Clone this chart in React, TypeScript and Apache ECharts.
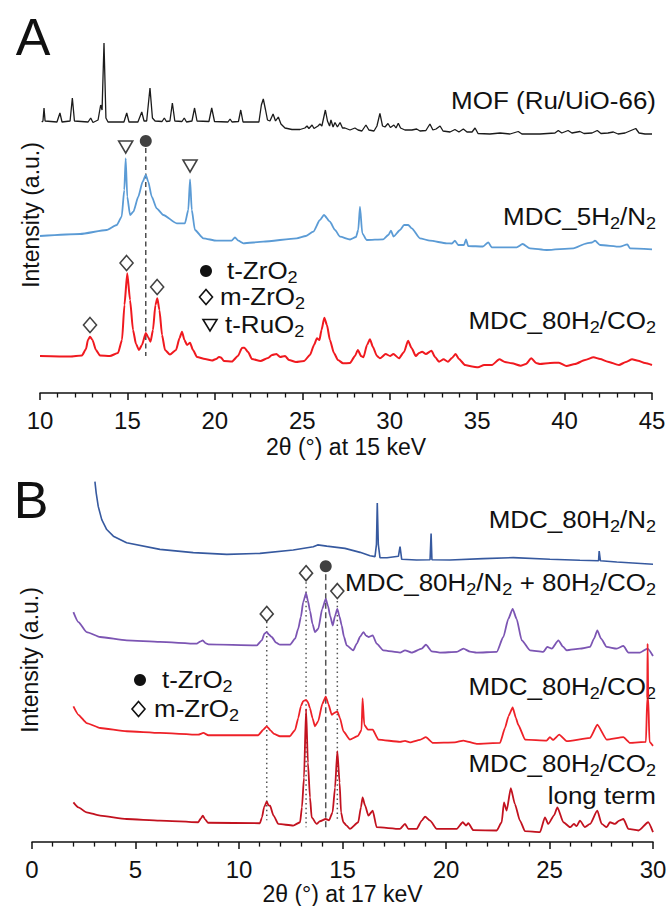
import { useEffect, useRef } from "react";
import * as echarts from "echarts";

// ---------- Panel A: 2θ at 15 keV (stacked intensities, a.u.) ----------
const mofRuUiO66: [number, number][] = [
  [10.1, 271], [10.17, 272], [10.23, 285], [10.29, 272], [10.97, 271], [11.14, 280], [11.26, 271],
  [11.72, 272], [11.85, 295], [11.97, 272], [12.75, 271], [12.9, 275], [13.03, 270.5], [13.32, 273],
  [13.47, 288], [13.55, 283], [13.66, 350], [13.77, 275], [13.89, 271], [14.8, 271], [14.96, 280],
  [15.09, 271], [15.6, 271], [15.82, 281], [15.95, 272], [16.1, 272], [16.29, 305], [16.43, 275],
  [16.58, 272], [16.98, 271.5], [17.11, 275], [17.23, 271.5], [17.43, 272], [17.57, 290], [17.71, 272],
  [18.12, 271.5], [18.25, 275], [18.38, 271], [18.69, 272], [18.84, 285], [18.98, 272], [19.66, 271.5],
  [19.82, 285], [19.98, 271.5], [20.75, 271], [20.87, 274], [20.98, 271], [21.35, 271.5], [21.48, 283],
  [21.61, 271], [22.52, 271], [22.66, 288], [22.77, 294], [22.9, 283], [23.01, 273], [23.15, 272],
  [23.33, 279], [23.47, 272], [23.63, 276], [23.78, 269], [24.01, 265], [24.41, 263.5], [24.87, 263.5],
  [25.15, 265], [25.27, 267], [25.38, 264.5], [25.56, 268], [25.67, 264.5], [25.9, 267], [26.01, 269],
  [26.12, 267], [26.32, 283], [26.44, 272], [26.56, 267], [26.64, 273], [26.76, 266], [26.87, 270.5],
  [27.01, 266], [27.16, 270.5], [27.3, 265], [27.44, 265], [27.73, 263], [28.01, 265], [28.19, 263],
  [28.41, 262], [28.64, 268], [28.81, 263], [29.1, 262], [29.27, 267], [29.44, 279.7], [29.59, 267],
  [29.73, 266], [29.9, 269.5], [30.04, 265.5], [30.24, 268], [30.36, 265], [30.49, 269.7], [30.62, 265],
  [30.87, 263], [31.27, 263], [31.54, 264], [31.73, 262], [32.07, 262.5], [32.3, 269], [32.47, 263],
  [32.65, 264], [32.88, 267], [33.05, 262], [33.45, 261], [33.73, 263.5], [33.96, 261], [34.21, 264],
  [34.42, 261], [34.71, 261], [34.88, 265], [35.05, 259.5], [35.73, 259], [36.31, 260], [36.88, 259],
  [37.35, 261.5], [37.56, 259], [38.59, 259], [39.45, 260], [39.64, 262.5], [39.84, 260], [40.2, 262.5],
  [40.42, 260], [40.88, 261.5], [41.11, 259.5], [41.57, 260], [41.87, 262.5], [42.08, 259.5], [42.48, 260],
  [42.79, 261], [43.06, 259], [43.46, 260], [44.07, 264.5], [44.26, 260], [44.6, 259], [45.0, 259],
];

const mdc5H2N2: [number, number][] = [
  [10.0, 157], [12.29, 159], [13.81, 163], [14.39, 168], [14.67, 176.3], [14.82, 203], [14.9, 234.7],
  [14.99, 196.3], [15.15, 178], [15.34, 181.3], [15.62, 196.3], [15.87, 211.3], [16.05, 218],
  [16.19, 211.3], [16.39, 196.3], [16.67, 184.7], [17.05, 178], [17.82, 169.7], [18.29, 169.7],
  [18.48, 183], [18.58, 213.7], [18.68, 183], [18.86, 163], [19.34, 154.7], [20.1, 152.3], [20.96, 152.3],
  [21.15, 155.7], [21.34, 152.3], [21.63, 149.7], [22.77, 151.3], [24.68, 154.7], [25.21, 157],
  [25.63, 161.3], [26.01, 173], [26.24, 178], [26.58, 171.3], [26.87, 163], [27.16, 156.3], [27.73, 153.5],
  [28.07, 156], [28.2, 163], [28.3, 186.3], [28.43, 159.7], [28.68, 153], [29.63, 153.7], [29.92, 158],
  [30.07, 162.3], [30.22, 156.5], [30.59, 163], [30.82, 168], [31.06, 168], [31.26, 164.7], [31.73, 154.7],
  [32.3, 152.3], [33.26, 149.7], [33.56, 149.5], [33.73, 152.3], [33.92, 148], [34.25, 148], [34.36, 153.7],
  [34.49, 147], [35.33, 146.5], [35.64, 150.7], [35.83, 145.7], [37.26, 145.7], [37.6, 149], [38.02, 144.7],
  [38.98, 143], [40.5, 144.7], [41.27, 149.7], [41.57, 150.5], [41.74, 152.3], [42.03, 148], [43.17, 146.3],
  [43.59, 148.7], [43.74, 144.7], [45.0, 143.7],
];

const mdc80H2CO2A: [number, number][] = [
  [10.0, 37], [11.72, 36.5], [12.4, 37.5], [12.63, 44], [12.74, 53], [12.86, 56.3], [13.0, 53], [13.2, 43],
  [13.43, 37.5], [14.0, 37], [14.46, 40], [14.69, 53], [14.83, 88], [14.99, 119.7], [15.15, 93], [15.32, 63],
  [15.49, 49], [15.66, 43], [15.83, 48], [16.05, 60], [16.18, 56], [16.32, 51.3], [16.46, 63], [16.6, 88],
  [16.71, 94.7], [16.83, 83], [16.98, 58], [17.15, 43], [17.43, 38.5], [17.78, 43], [17.98, 55], [18.12, 61.3],
  [18.26, 53], [18.41, 48], [18.58, 50.3], [18.75, 43], [18.98, 36], [19.44, 34], [19.84, 32.5], [20.07, 34],
  [20.24, 36], [20.35, 35.5], [20.52, 32], [20.98, 31.5], [21.32, 37], [21.55, 45], [21.69, 45.3], [21.9, 41],
  [22.12, 34], [22.61, 32], [23.04, 35], [23.27, 38], [23.52, 39], [23.73, 36], [24.01, 37], [24.24, 33],
  [24.64, 31], [25.1, 32], [25.44, 38], [25.67, 48], [25.84, 54.7], [25.98, 53], [26.1, 63], [26.26, 75.3],
  [26.41, 68], [26.58, 53], [26.81, 40], [27.04, 33], [27.33, 29.7], [27.73, 30], [28.01, 37], [28.18, 43],
  [28.36, 37], [28.5, 35.7], [28.7, 48], [28.87, 53.7], [29.04, 46], [29.27, 37], [29.44, 34.7], [29.77, 39],
  [30.02, 37], [30.21, 39], [30.53, 34.7], [30.82, 41], [31.05, 52.3], [31.25, 45], [31.49, 37], [31.68, 40],
  [31.85, 41.3], [32.07, 39], [32.39, 42.3], [32.59, 36], [32.82, 31.3], [33.08, 33.7], [33.33, 31.3],
  [33.56, 35], [33.77, 39], [33.96, 34], [34.31, 28], [34.71, 26.5], [35.05, 25.7], [35.4, 28], [35.85, 28],
  [36.27, 33.7], [36.59, 31], [36.99, 29.7], [37.49, 27.3], [37.79, 29], [38.1, 34.7], [38.37, 30], [38.59, 29],
  [39.17, 30], [39.68, 30.3], [40.11, 27], [40.6, 29], [41.17, 33], [41.66, 35.7], [42.03, 34], [42.48, 31.3],
  [43.11, 28], [43.51, 31], [43.86, 33.7], [44.2, 32.3], [44.6, 30], [45.0, 28],
];

// reflection markers, panel A
const tRuO2PeaksA: [number, number][] = [[14.9, 246], [18.58, 227]];
const tZrO2PeaksA: [number, number][] = [[16.05, 252]];
const mZrO2PeaksA: [number, number][] = [[12.86, 68], [14.95, 130], [16.7, 106]];
const tZrO2GuideA: [number, number][] = [[16.05, 245], [16.05, 37]];

// ---------- Panel B: 2θ at 17 keV ----------
const mdc80H2N2: [number, number][] = [
  [3.04, 363.3], [3.1, 352], [3.2, 338.3], [3.37, 325], [3.61, 315], [3.93, 308.3], [4.57, 301.7],
  [6.18, 295], [7.79, 291.7], [9.41, 290], [11.01, 291], [12.62, 294.3], [13.59, 297.7], [13.8, 299.5],
  [14.24, 298.3], [15.12, 296], [15.85, 292], [16.33, 288.5], [16.57, 287.7], [16.64, 300], [16.68, 341.7],
  [16.73, 300], [16.81, 286.7], [17.15, 286.5], [17.7, 288], [17.78, 297.7], [17.86, 285], [18.58, 284.3],
  [19.23, 284.5], [19.28, 311], [19.32, 284.5], [20.19, 284.3], [21.8, 285.7], [23.25, 286.7], [25.02, 285],
  [26.47, 284], [27.37, 283.5], [27.4, 293.3], [27.46, 283.5], [28.25, 282.3], [30.0, 280],
];

const mdcN2PlusCO2: [number, number][] = [
  [2.0, 231.7], [2.24, 221.7], [2.64, 211.7], [3.29, 206.7], [4.57, 203.3], [6.18, 201.7], [7.96, 200],
  [8.12, 202], [8.25, 203.3], [8.38, 200.5], [8.52, 199.3], [10.86, 198.3], [11.1, 203.3], [11.23, 210],
  [11.34, 211.7], [11.45, 209], [11.58, 206.7], [11.79, 201], [11.98, 199], [12.46, 199], [12.71, 205],
  [12.86, 215], [12.99, 227], [13.1, 241.7], [13.24, 251], [13.33, 243], [13.43, 233], [13.55, 220],
  [13.67, 211.7], [13.83, 215], [14.02, 235], [14.19, 245], [14.3, 238], [14.4, 228.3], [14.53, 218.3],
  [14.64, 228], [14.75, 235], [14.86, 227], [14.96, 218.3], [15.07, 207], [15.2, 198.3], [15.52, 193.3],
  [15.69, 200], [15.85, 207], [16.01, 211.7], [16.14, 208], [16.25, 206.7], [16.46, 208.3], [16.65, 200],
  [16.97, 193.3], [17.78, 191], [18.02, 193.3], [18.34, 191], [18.83, 195], [19.03, 199], [19.31, 192.3],
  [19.71, 191], [20.52, 191.7], [20.84, 195], [21.16, 192], [21.48, 191], [22.45, 191.7], [22.77, 206.7],
  [23.01, 225], [23.22, 235], [23.41, 225], [23.66, 203.3], [24.06, 193.3], [24.7, 191.7], [24.89, 196.7],
  [25.11, 195], [25.43, 203.3], [25.65, 197], [25.83, 193.3], [26.47, 195], [26.96, 196.7], [27.15, 205],
  [27.31, 213.3], [27.49, 205], [27.76, 196.7], [28.25, 195], [28.57, 197.7], [28.81, 191], [29.37, 191],
  [29.74, 195], [30.0, 187.5],
];

const mdc80H2CO2B: [number, number][] = [
  [2.0, 136.7], [2.24, 128.3], [2.64, 120], [3.29, 115], [4.57, 111.7], [6.18, 110], [8.03, 108.3],
  [8.28, 110], [8.52, 107.7], [10.93, 107.7], [11.16, 113], [11.34, 116.7], [11.55, 112], [11.69, 109],
  [11.98, 106.7], [12.46, 106.7], [12.71, 113], [12.86, 125], [12.99, 137], [13.1, 142], [13.24, 143.3],
  [13.33, 141], [13.43, 135], [13.55, 125], [13.67, 116.7], [13.83, 122], [14.02, 139], [14.19, 146.7],
  [14.32, 139], [14.48, 128.3], [14.59, 130], [14.75, 131.7], [14.88, 125], [15.04, 111.7], [15.36, 103.3],
  [15.75, 107], [15.92, 113], [15.97, 145], [16.05, 118.3], [16.23, 113.3], [16.46, 113.3], [16.73, 103.3],
  [17.78, 101], [18.02, 102], [18.26, 100.5], [18.74, 103], [19.03, 105.7], [19.37, 100], [20.43, 100.5],
  [20.84, 102.3], [21.48, 99], [22.61, 100], [22.85, 115], [23.02, 127], [23.22, 135.7], [23.38, 125],
  [23.49, 118.3], [23.82, 103.3], [24.86, 102.3], [25.02, 105.7], [25.17, 103], [25.47, 108.3], [25.83, 101.7],
  [26.96, 105], [27.31, 118.3], [27.76, 103.3], [28.57, 105.7], [28.89, 100], [29.66, 101], [29.72, 145],
  [29.74, 200], [29.77, 145], [29.83, 101], [30.0, 97],
];

const mdc80H2CO2LongTerm: [number, number][] = [
  [2.0, 40], [2.24, 35], [2.64, 30], [3.29, 26.7], [4.57, 23.3], [6.18, 21.7], [8.03, 20], [8.16, 24],
  [8.25, 26.7], [8.36, 23], [8.5, 19.5], [11.01, 19], [11.11, 25], [11.21, 35], [11.34, 40.7], [11.43, 37],
  [11.5, 36.7], [11.66, 27], [11.9, 18.3], [12.62, 16.7], [12.95, 20], [13.04, 35], [13.14, 65], [13.24, 134],
  [13.33, 80], [13.43, 45], [13.51, 25], [13.75, 18.3], [13.91, 21], [14.19, 23.3], [14.35, 22], [14.52, 30],
  [14.64, 55], [14.75, 91.7], [14.86, 60], [14.93, 30], [15.04, 20], [15.2, 16.7], [15.36, 13.3], [15.76, 20],
  [15.89, 35], [15.97, 45], [16.09, 37], [16.25, 26.7], [16.46, 31.7], [16.65, 15], [17.78, 13.3], [18.02, 18.3],
  [18.18, 13.3], [18.58, 13.3], [18.83, 21.7], [18.99, 25.7], [19.23, 21.7], [19.55, 13.3], [20.52, 13.3],
  [20.81, 20], [20.97, 16.7], [21.08, 19], [21.32, 12], [22.45, 11.7], [22.69, 20], [22.8, 40], [22.93, 31.7],
  [23.13, 54.3], [23.33, 38.3], [23.57, 21.7], [23.82, 11], [24.54, 10], [24.78, 25], [24.94, 18.3], [25.22, 27],
  [25.38, 35], [25.67, 20], [26.0, 15], [26.18, 18.3], [26.31, 16], [26.47, 21.7], [26.71, 15], [26.96, 18.3],
  [27.31, 31.7], [27.52, 18.3], [27.76, 15], [27.92, 20], [28.16, 18.3], [28.37, 21.7], [28.57, 23.3],
  [28.81, 13.3], [29.3, 11.7], [29.77, 20], [30.0, 10],
];

// reflection markers and guide lines, panel B
const mZrO2PeaksB: [number, number][] = [[11.34, 230], [13.24, 271], [14.75, 253]];
const tZrO2PeaksB: [number, number][] = [[14.19, 278]];
const mZrO2GuidesB: [number, number, number][] = [[11.34, 222, 22], [13.24, 262, 15], [14.75, 243, 22]];
const tZrO2GuideB: [number, number][] = [[14.19, 270], [14.19, 12]];

const ticksA = { min: 10, max: 45, interval: 5 };
const ticksB = { min: 0, max: 30, interval: 5 };

const FONT = "'Liberation Sans', Arial, Helvetica, sans-serif";
const INK = "#111";
const COLORS = {
  mof: "#1b1b1b",
  blueA: "#5b9bd5",
  redA: "#f0191f",
  blueB: "#36599f",
  purple: "#7c55b3",
  redB: "#ee2128",
  darkRed: "#c2121f",
};

const RICH = {
  n: { fontSize: 23, fontFamily: FONT, fill: INK, lineHeight: 29, verticalAlign: "middle" },
  s: { fontSize: 16, fontFamily: FONT, fill: INK, lineHeight: 16, verticalAlign: "bottom" },
};

function sampleLabel(text: string, y: number, x = 656, align = "right") {
  return {
    type: "text",
    x,
    y,
    scaleX: 1.13,
    silent: true,
    style: { text, align, verticalAlign: "middle", rich: RICH, fill: INK, fontSize: 23, fontFamily: FONT },
  };
}

function plainText(text: string, x: number, y: number, fontSize: number, extra: any = {}) {
  return {
    type: "text",
    x,
    y,
    silent: true,
    ...extra,
    style: { text, fill: INK, fontSize, fontFamily: FONT, align: "center", verticalAlign: "middle", ...(extra.style || {}) },
  };
}

function diamondShape(cx: number, cy: number, w: number, h: number) {
  return {
    type: "polygon",
    silent: true,
    shape: { points: [[cx, cy - h / 2], [cx + w / 2, cy], [cx, cy + h / 2], [cx - w / 2, cy]] },
    style: { fill: "#fff", stroke: INK, lineWidth: 1.6 },
  };
}

function line(data: [number, number][], color: string, width: number, axis: number, type: any = "solid", smooth = 0) {
  return {
    type: "line",
    xAxisIndex: axis,
    yAxisIndex: axis,
    data,
    symbol: "none",
    silent: true,
    clip: false,
    smooth,
    smoothMonotone: "x",
    lineStyle: { color, width, type },
    z: 2,
  };
}

function markers(data: [number, number][], axis: number, symbol: string, size: any, filled: boolean, rotate = 0) {
  return {
    type: "scatter",
    xAxisIndex: axis,
    yAxisIndex: axis,
    data,
    symbol,
    symbolSize: size,
    symbolRotate: rotate,
    silent: true,
    z: 5,
    itemStyle: filled
      ? { color: INK, borderColor: INK, borderWidth: 0 }
      : { color: "#fff", borderColor: INK, borderWidth: 1.6 },
  };
}

function xAxisFor(ticks: { min: number; max: number; interval: number }, gridIndex: number, name: string, nameGap: number) {
  return {
    type: "value",
    gridIndex,
    ...ticks,
    name,
    nameLocation: "middle",
    nameGap,
    nameTextStyle: { fontSize: 23, fontFamily: FONT, color: INK },
    axisLine: { show: true, lineStyle: { color: INK, width: 1.5 } },
    axisTick: { show: true, length: 7, lineStyle: { color: INK, width: 1.5 } },
    minorTick: { show: true, splitNumber: 5, length: 4.5, lineStyle: { color: INK, width: 1.3 } },
    axisLabel: { fontSize: 24, fontFamily: FONT, color: INK, margin: 15 },
    splitLine: { show: false },
    minorSplitLine: { show: false },
  };
}

export default function App() {
  const ref = useRef<HTMLDivElement>(null);

  useEffect(() => {
    if (!ref.current) return;
    const chart = echarts.init(ref.current, null, { renderer: "svg" });

    const guideSeriesB = mZrO2GuidesB.map(([x, top, bottom]) =>
      line([[x, top], [x, bottom]], "#555", 1.5, 1, [1.5, 3.2])
    );

    const option: any = {
      animation: false,
      backgroundColor: "#fff",
      grid: [
        { left: 40, right: 20, top: 30, height: 363 },
        { left: 32, right: 19, top: 470, height: 375 },
      ],
      xAxis: [
        xAxisFor(ticksA, 0, "2θ (°) at 15 keV", 42),
        xAxisFor(ticksB, 1, "2θ (°) at 17 keV", 38),
      ],
      yAxis: [
        { type: "value", gridIndex: 0, min: 0, max: 363, show: false },
        { type: "value", gridIndex: 1, min: 0, max: 375, show: false },
      ],
      series: [
        line(tZrO2GuideA, "#333", 1.3, 0, [5, 3.5]),
        line(mofRuUiO66, COLORS.mof, 1.3, 0),
        line(mdc5H2N2, COLORS.blueA, 1.8, 0, "solid", 0.2),
        line(mdc80H2CO2A, COLORS.redA, 2, 0, "solid", 0.2),
        markers(tRuO2PeaksA, 0, "triangle", [14, 12], false, 180),
        markers(tZrO2PeaksA, 0, "circle", 12, true),
        markers(mZrO2PeaksA, 0, "diamond", [13, 15], false),

        ...guideSeriesB,
        line(tZrO2GuideB, "#555", 1.5, 1, [6, 3.5]),
        line(mdc80H2N2, COLORS.blueB, 1.6, 1),
        line(mdcN2PlusCO2, COLORS.purple, 1.8, 1, "solid", 0.2),
        line(mdc80H2CO2LongTerm, COLORS.darkRed, 1.8, 1, "solid", 0.2),
        line(mdc80H2CO2B, COLORS.redB, 1.8, 1, "solid", 0.15),
        markers(mZrO2PeaksB, 1, "diamond", [13, 15], false),
        markers(tZrO2PeaksB, 1, "circle", 12, true),
      ],
      graphic: [
        plainText("A", 33, 37, 52),
        plainText("B", 31, 500, 52),
        plainText("Intensity (a.u.)", 31, 215, 23, { rotation: Math.PI / 2 }),
        plainText("Intensity (a.u.)", 30, 660, 23, { rotation: Math.PI / 2 }),

        // legend, panel A
        { type: "circle", silent: true, shape: { cx: 206, cy: 271, r: 6 }, style: { fill: INK } },
        diamondShape(206, 297, 13, 15),
        {
          type: "polygon",
          silent: true,
          shape: { points: [[203, 319.5], [217, 319.5], [210, 331]] },
          style: { fill: "#fff", stroke: INK, lineWidth: 1.6 },
        },
        sampleLabel("{n|t-ZrO}{s|2}", 271, 227, "left"),
        sampleLabel("{n|m-ZrO}{s|2}", 297, 220, "left"),
        sampleLabel("{n|t-RuO}{s|2}", 325, 225, "left"),

        // sample names, panel A
        sampleLabel("{n|MOF (Ru/UiO-66)}", 101),
        sampleLabel("{n|MDC_5H}{s|2}{n|/N}{s|2}", 217),
        sampleLabel("{n|MDC_80H}{s|2}{n|/CO}{s|2}", 321),

        // legend, panel B
        { type: "circle", silent: true, shape: { cx: 140, cy: 680, r: 6 }, style: { fill: INK } },
        diamondShape(138.5, 709, 13, 15),
        sampleLabel("{n|t-ZrO}{s|2}", 680, 162, "left"),
        sampleLabel("{n|m-ZrO}{s|2}", 709, 154, "left"),

        // sample names, panel B
        sampleLabel("{n|MDC_80H}{s|2}{n|/N}{s|2}", 520),
        sampleLabel("{n|MDC_80H}{s|2}{n|/N}{s|2}{n| + 80H}{s|2}{n|/CO}{s|2}", 583),
        sampleLabel("{n|MDC_80H}{s|2}{n|/CO}{s|2}", 687),
        sampleLabel("{n|MDC_80H}{s|2}{n|/CO}{s|2}", 764),
        sampleLabel("{n|long term}", 796),
      ],
    };

    chart.setOption(option);
    return () => chart.dispose();
  }, []);

  return (
    <div
      ref={ref}
      style={{ position: "absolute", left: 0, top: 0, width: 672, height: 906, background: "#fff" }}
    />
  );
}
